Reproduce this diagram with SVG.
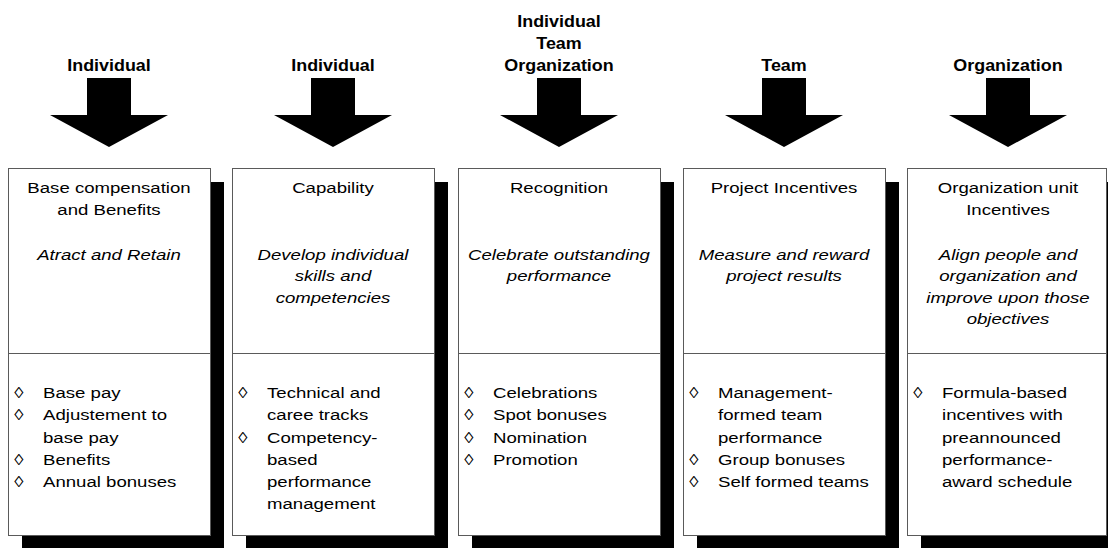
<svg xmlns="http://www.w3.org/2000/svg" width="1108" height="548" viewBox="0 0 1108 548">
<defs>
<style>
text{font-family:"Liberation Sans",Arial,sans-serif;fill:#000}
.ttl{font-size:16px;font-weight:bold;text-anchor:middle}
.hd{font-size:15.5px;text-anchor:middle}
.it{font-size:15.5px;font-style:italic;text-anchor:middle}
.bl{font-size:15.5px}
.box{fill:#fff;stroke:#5a5a5a;stroke-width:1}
.sh{fill:#000}
.div{stroke:#5a5a5a;stroke-width:1}
.arr{fill:#000}
</style>
<path id="arrow" d="M-22,78 H22 V115 H59 L0,147 L-59,115 H-22 Z"/>
</defs>
<rect width="1108" height="548" fill="#fff"/>

<g id="connectors">
<use href="#arrow" class="arr" transform="translate(109,0)"/>
<use href="#arrow" class="arr" transform="translate(333,0)"/>
<use href="#arrow" class="arr" transform="translate(559,0)"/>
<use href="#arrow" class="arr" transform="translate(784,0)"/>
<use href="#arrow" class="arr" transform="translate(1008,0)"/>
</g>

<g id="labels">
<g transform="translate(109,0) scale(1.12,1)"><text class="ttl" x="0" y="71">Individual</text></g>
<g transform="translate(333,0) scale(1.12,1)"><text class="ttl" x="0" y="71">Individual</text></g>
<g transform="translate(559,0) scale(1.12,1)"><text class="ttl" x="0" y="27">Individual</text><text class="ttl" x="0" y="49">Team</text><text class="ttl" x="0" y="71">Organization</text></g>
<g transform="translate(784,0) scale(1.12,1)"><text class="ttl" x="0" y="71">Team</text></g>
<g transform="translate(1008,0) scale(1.12,1)"><text class="ttl" x="0" y="71">Organization</text></g>
</g>

<g id="node1">
<rect class="sh" x="22" y="182" width="202" height="367"/>
<rect class="box" x="8.5" y="168.5" width="202" height="367"/>
<line class="div" x1="8.5" y1="353.5" x2="210.5" y2="353.5"/>
<g transform="translate(109,0) scale(1.2,1)">
<text class="hd" x="0" y="193">Base compensation</text>
<text class="hd" x="0" y="215">and Benefits</text>
<text class="it" x="0" y="260">Atract and Retain</text>
<text class="bl" x="-79" y="398">◊</text><text class="bl" x="-55" y="398">Base pay</text>
<text class="bl" x="-79" y="420.3">◊</text><text class="bl" x="-55" y="420.3">Adjustement to</text>
<text class="bl" x="-55" y="442.6">base pay</text>
<text class="bl" x="-79" y="464.9">◊</text><text class="bl" x="-55" y="464.9">Benefits</text>
<text class="bl" x="-79" y="487.2">◊</text><text class="bl" x="-55" y="487.2">Annual bonuses</text>
</g>
</g>

<g id="node2">
<rect class="sh" x="246" y="182" width="202" height="367"/>
<rect class="box" x="232.5" y="168.5" width="202" height="367"/>
<line class="div" x1="232.5" y1="353.5" x2="434.5" y2="353.5"/>
<g transform="translate(333,0) scale(1.2,1)">
<text class="hd" x="0" y="193">Capability</text>
<text class="it" x="0" y="260">Develop individual</text>
<text class="it" x="0" y="281.5">skills and</text>
<text class="it" x="0" y="303">competencies</text>
<text class="bl" x="-79" y="398">◊</text><text class="bl" x="-55" y="398">Technical and</text>
<text class="bl" x="-55" y="420.3">caree tracks</text>
<text class="bl" x="-79" y="442.6">◊</text><text class="bl" x="-55" y="442.6">Competency-</text>
<text class="bl" x="-55" y="464.9">based</text>
<text class="bl" x="-55" y="487.2">performance</text>
<text class="bl" x="-55" y="509.5">management</text>
</g>
</g>

<g id="node3">
<rect class="sh" x="472" y="182" width="202" height="367"/>
<rect class="box" x="458.5" y="168.5" width="202" height="367"/>
<line class="div" x1="458.5" y1="353.5" x2="660.5" y2="353.5"/>
<g transform="translate(559,0) scale(1.2,1)">
<text class="hd" x="0" y="193">Recognition</text>
<text class="it" x="0" y="260">Celebrate outstanding</text>
<text class="it" x="0" y="281.5">performance</text>
<text class="bl" x="-79" y="398">◊</text><text class="bl" x="-55" y="398">Celebrations</text>
<text class="bl" x="-79" y="420.3">◊</text><text class="bl" x="-55" y="420.3">Spot bonuses</text>
<text class="bl" x="-79" y="442.6">◊</text><text class="bl" x="-55" y="442.6">Nomination</text>
<text class="bl" x="-79" y="464.9">◊</text><text class="bl" x="-55" y="464.9">Promotion</text>
</g>
</g>

<g id="node4">
<rect class="sh" x="697" y="182" width="202" height="367"/>
<rect class="box" x="683.5" y="168.5" width="202" height="367"/>
<line class="div" x1="683.5" y1="353.5" x2="885.5" y2="353.5"/>
<g transform="translate(784,0) scale(1.2,1)">
<text class="hd" x="0" y="193">Project Incentives</text>
<text class="it" x="0" y="260">Measure and reward</text>
<text class="it" x="0" y="281.5">project results</text>
<text class="bl" x="-79" y="398">◊</text><text class="bl" x="-55" y="398">Management-</text>
<text class="bl" x="-55" y="420.3">formed team</text>
<text class="bl" x="-55" y="442.6">performance</text>
<text class="bl" x="-79" y="464.9">◊</text><text class="bl" x="-55" y="464.9">Group bonuses</text>
<text class="bl" x="-79" y="487.2">◊</text><text class="bl" x="-55" y="487.2">Self formed teams</text>
</g>
</g>

<g id="node5">
<rect class="sh" x="921" y="182" width="202" height="367"/>
<rect class="box" x="907.5" y="168.5" width="199" height="367"/>
<line class="div" x1="907.5" y1="353.5" x2="1106.5" y2="353.5"/>
<g transform="translate(1008,0) scale(1.2,1)">
<text class="hd" x="0" y="193">Organization unit</text>
<text class="hd" x="0" y="215">Incentives</text>
<text class="it" x="0" y="260">Align people and</text>
<text class="it" x="0" y="281.5">organization and</text>
<text class="it" x="0" y="303">improve upon those</text>
<text class="it" x="0" y="324.5">objectives</text>
<text class="bl" x="-79" y="398">◊</text><text class="bl" x="-55" y="398">Formula-based</text>
<text class="bl" x="-55" y="420.3">incentives with</text>
<text class="bl" x="-55" y="442.6">preannounced</text>
<text class="bl" x="-55" y="464.9">performance-</text>
<text class="bl" x="-55" y="487.2">award schedule</text>
</g>
</g>
</svg>
